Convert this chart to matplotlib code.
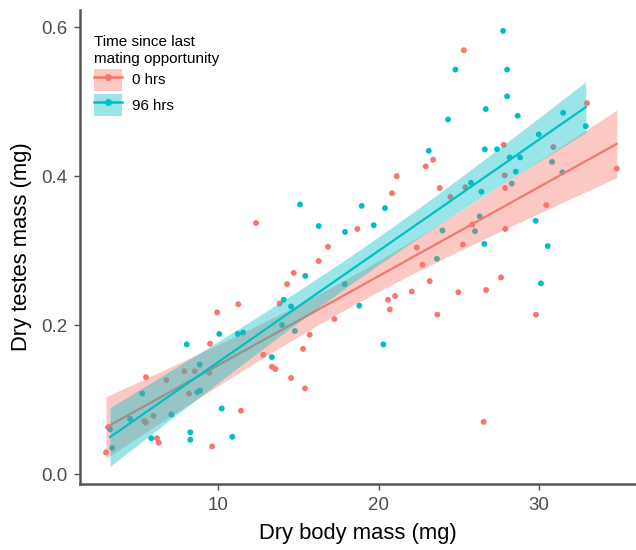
import matplotlib
matplotlib.use("Agg")
import matplotlib.pyplot as plt
from matplotlib.patches import Patch
from matplotlib.lines import Line2D
import numpy as np

plt.rcParams['font.family'] = ['Liberation Sans', 'DejaVu Sans']

# 0 hrs since last mating opportunity
body_0 = [3.02, 3.17, 5.51, 5.41, 5.50, 5.97, 6.20, 6.31, 6.78, 7.90, 8.19, 8.55, 9.46,
          9.50, 9.63, 9.94, 11.26, 11.43, 12.37, 12.82, 13.36, 13.57, 13.83, 14.30,
          14.55, 14.72, 15.30, 15.42, 15.71, 16.27, 16.85, 17.25, 18.68, 20.59, 20.70,
          20.84, 21.03, 21.13, 22.07, 22.38, 22.73, 22.94, 23.19, 23.40, 23.66, 23.81,
          24.47, 24.97, 25.31, 25.25, 25.41, 25.84, 26.55, 26.70, 27.63, 27.80, 27.86,
          27.88, 27.90, 29.81, 30.45, 30.89, 32.99, 34.84]
testes_0 = [0.029, 0.063, 0.130, 0.071, 0.069, 0.078, 0.048, 0.042, 0.126, 0.138, 0.108,
            0.138, 0.136, 0.175, 0.037, 0.217, 0.228, 0.085, 0.337, 0.160, 0.144, 0.141,
            0.229, 0.255, 0.129, 0.270, 0.168, 0.115, 0.187, 0.286, 0.305, 0.208, 0.329,
            0.234, 0.221, 0.377, 0.239, 0.400, 0.245, 0.304, 0.281, 0.413, 0.259, 0.422,
            0.214, 0.384, 0.372, 0.244, 0.569, 0.308, 0.385, 0.335, 0.070, 0.247, 0.264,
            0.442, 0.401, 0.384, 0.329, 0.214, 0.361, 0.439, 0.498, 0.410]

# 96 hrs since last mating opportunity
body_96 = [3.27, 3.40, 4.52, 5.28, 5.84, 7.09, 8.05, 8.27, 8.27, 8.71, 8.88, 8.86, 10.08,
           10.23, 10.89, 11.23, 11.56, 13.35, 13.99, 14.09, 14.55, 14.78, 15.11, 15.44,
           16.27, 17.89, 17.91, 18.80, 18.95, 19.70, 20.30, 20.40, 23.13, 23.64, 23.98,
           24.33, 24.79, 25.76, 26.01, 26.30, 26.41, 26.59, 26.62, 26.68, 27.38, 27.76,
           28.01, 28.01, 28.17, 28.30, 28.55, 28.67, 28.82, 29.79, 29.98, 30.12, 30.54,
           30.81, 31.45, 31.50, 32.91]
testes_96 = [0.060, 0.035, 0.074, 0.108, 0.048, 0.080, 0.174, 0.056, 0.046, 0.110, 0.112,
             0.147, 0.188, 0.088, 0.050, 0.188, 0.190, 0.157, 0.200, 0.234, 0.225, 0.192,
             0.362, 0.266, 0.333, 0.255, 0.325, 0.226, 0.360, 0.334, 0.174, 0.357, 0.434,
             0.289, 0.327, 0.476, 0.543, 0.391, 0.326, 0.346, 0.379, 0.309, 0.436, 0.490,
             0.436, 0.595, 0.543, 0.507, 0.425, 0.390, 0.406, 0.481, 0.425, 0.340, 0.456,
             0.256, 0.306, 0.419, 0.405, 0.485, 0.467]

groups = ["0 hrs", "96 hrs"]
colors = ["#F8766D", "#00BFC4"]


def lm_band(x, y, xs):
    # linear fit with 95% confidence band (like geom_smooth(method='lm'))
    x = np.asarray(x); y = np.asarray(y)
    n = len(x)
    b, a = np.polyfit(x, y, 1)
    resid = y - (a + b * x)
    s = np.sqrt(np.sum(resid ** 2) / (n - 2))
    sxx = np.sum((x - x.mean()) ** 2)
    se = s * np.sqrt(1.0 / n + (xs - x.mean()) ** 2 / sxx)
    fit = a + b * xs
    t = 2.0
    return fit, fit - t * se, fit + t * se


fig = plt.figure(figsize=(6.36, 5.5), dpi=100)
ax = fig.add_axes([80 / 636, 1 - 484 / 550, 556 / 636, 474 / 550])

datasets = [(body_0, testes_0), (body_96, testes_96)]

# points first, smooths drawn over them
for (bx, ty), c in zip(datasets, colors):
    ax.scatter(bx, ty, s=18, color=c, edgecolors='none', zorder=1)

for (bx, ty), c in zip(datasets, colors):
    xs = np.linspace(min(bx), max(bx), 100)
    fit, lo, hi = lm_band(bx, ty, xs)
    ax.fill_between(xs, lo, hi, color=c, alpha=0.4, linewidth=0, zorder=2)
    ax.plot(xs, fit, color=c, linewidth=1.6, zorder=2)

ax.set_xlim(1.4, 36.04)
ax.set_ylim(-0.0134, 0.623)
ax.set_xticks([10, 20, 30])
ax.set_yticks([0.0, 0.2, 0.4, 0.6])
ax.set_yticklabels(["0.0", "0.2", "0.4", "0.6"])

for side in ['top', 'right']:
    ax.spines[side].set_visible(False)
for side in ['left', 'bottom']:
    ax.spines[side].set_color('#555555')
    ax.spines[side].set_linewidth(1.8)
ax.tick_params(axis='both', colors='#555555', labelcolor='#4D4D4D',
               labelsize=13.5, length=4, width=1.0, pad=5)

ax.set_xlabel("Dry body mass (mg)", fontsize=15.8, color='black', labelpad=7)
ax.set_ylabel("Dry testes mass (mg)", fontsize=15.8, color='black', labelpad=7)

handles = [(Patch(facecolor=c, alpha=0.4, edgecolor='none'),
            Line2D([], [], color=c, linewidth=1.8, marker='o', markersize=4))
           for c in colors]
leg = ax.legend(handles, groups, title="Time since last\nmating opportunity",
                loc='upper left', bbox_to_anchor=(0.0, 0.975), frameon=False,
                fontsize=10.8, title_fontsize=11, alignment='left',
                handlelength=1.9, handleheight=1.9, labelspacing=0.2,
                handletextpad=0.7, borderaxespad=0.5)

fig.savefig("out.png", dpi=100)
